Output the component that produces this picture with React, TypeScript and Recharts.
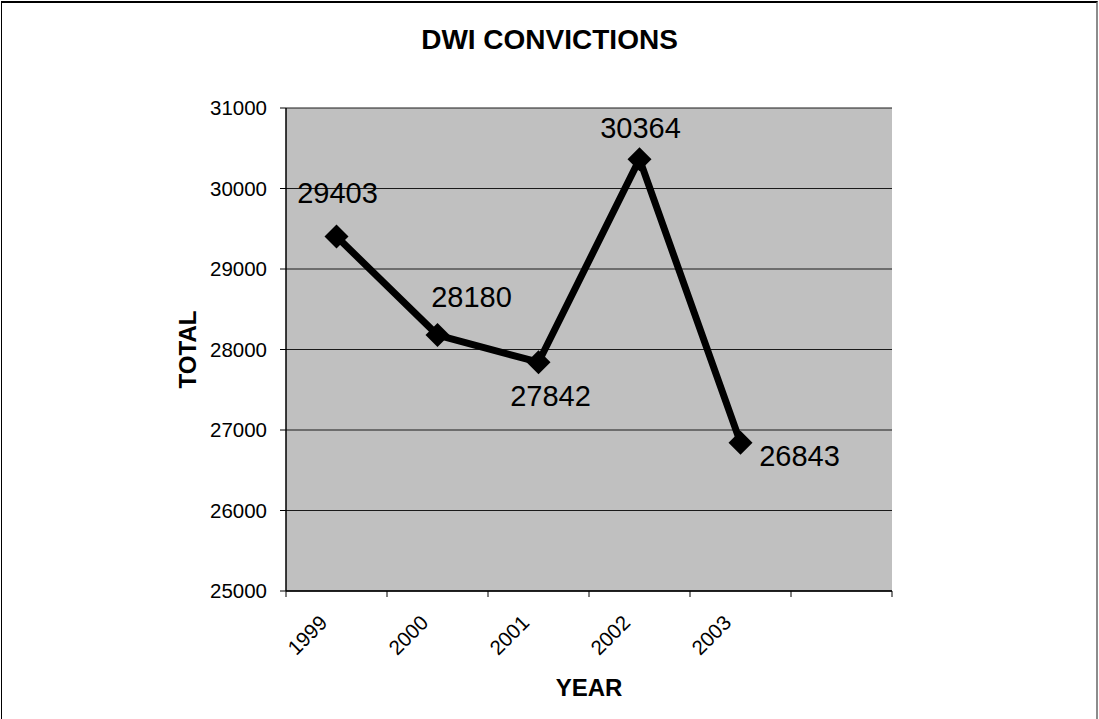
import { LineChart, Line, XAxis, YAxis, CartesianGrid } from 'recharts';

const YEARS = ['1999', '2000', '2001', '2002', '2003', ''];
const TOTALS: (number | null)[] = [29403, 28180, 27842, 30364, 26843, null];
const Y_TICKS = [25000, 26000, 27000, 28000, 29000, 30000, 31000];

// hand-placed data labels, offset from each point (dx = text centre, dy = baseline)
const LABEL_OFFSETS = [[1, -34], [34, -28], [12, 44], [1, -21], [59, 23]];

const FONT = 'Arial, "Liberation Sans", sans-serif';
const W = 1099;
const H = 719;
const PLOT_W = 606;
const HALF_BAND = PLOT_W / YEARS.length / 2;

const data = YEARS.map((year, i) => ({ year, total: TOTALS[i] }));

function Diamond(props: any) {
  const { cx, cy, value, index } = props;
  if (value == null || cx == null || cy == null) return <g key={index} />;
  const r = 12;
  return (
    <polygon
      key={index}
      points={`${cx},${cy - r} ${cx + r},${cy} ${cx},${cy + r} ${cx - r},${cy}`}
      fill="#000"
    />
  );
}

function PointLabel(props: any) {
  const { x, y, value, index } = props;
  if (value == null) return null;
  const [dx, dy] = LABEL_OFFSETS[index] || [0, -20];
  return (
    <text x={x + dx} y={y + dy} textAnchor="middle" fontSize={29} fontFamily={FONT} fill="#000">
      {value}
    </text>
  );
}

function YearTick(props: any) {
  const { x, y, payload, index, visibleTicksCount } = props;
  const last = index === visibleTicksCount - 1;
  const tx = x - 8;
  const ty = y + 33;
  return (
    <g>
      <line x1={x - HALF_BAND} y1={y} x2={x - HALF_BAND} y2={y + 6} stroke="#000" />
      {last && <line x1={x + HALF_BAND} y1={y} x2={x + HALF_BAND} y2={y + 6} stroke="#000" />}
      <text
        x={tx}
        y={ty}
        textAnchor="end"
        fontSize={20.5}
        fontFamily={FONT}
        fill="#000"
        transform={`rotate(-45 ${tx} ${ty})`}
      >
        {payload.value}
      </text>
    </g>
  );
}

export default function App() {
  return (
    <div style={{ position: 'absolute', left: 0, top: 0, width: W, height: H, background: '#fff', overflow: 'hidden' }}>
      <div
        style={{
          position: 'absolute', left: 1, top: 1, width: 1097, height: 718, boxSizing: 'border-box',
          borderTop: '2px solid #000', borderLeft: '1px solid #000', borderRight: '2px solid #8c8c8c',
        }}
      />
      <div
        style={{
          position: 'absolute', left: 0, top: 26, width: W, textAlign: 'center',
          fontFamily: FONT, fontWeight: 'bold', fontSize: 28, lineHeight: '27px', color: '#000',
        }}
      >
        DWI CONVICTIONS
      </div>
      <div style={{ position: 'absolute', left: 0, top: 0 }}>
        <LineChart width={W} height={H} data={data} margin={{ top: 108, right: 207, bottom: 0, left: 0 }}>
          <CartesianGrid vertical={false} stroke="#1a1a1a" fill="#c0c0c0" fillOpacity={1} />
          <XAxis
            dataKey="year"
            scale="band"
            height={128}
            interval={0}
            tickSize={0}
            tickMargin={0}
            tickLine={false}
            axisLine={{ stroke: '#000', strokeWidth: 1.5 }}
            tick={<YearTick />}
            label={(p: any) => {
              const vb = p.viewBox;
              return (
                <text x={vb.x + vb.width / 2} y={vb.y + 105} textAnchor="middle" fontSize={24} fontWeight="bold" fontFamily={FONT} fill="#000">
                  YEAR
                </text>
              );
            }}
          />
          <XAxis xAxisId="top" dataKey="year" orientation="top" height={0} tick={false} tickLine={false} axisLine={{ stroke: '#8c8c8c', strokeWidth: 2 }} />
          <YAxis
            width={286}
            domain={[25000, 31000]}
            ticks={Y_TICKS}
            interval={0}
            tickSize={6}
            tickMargin={13}
            tick={{ fontSize: 20.5, fill: '#000', fontFamily: FONT }}
            tickLine={{ stroke: '#000' }}
            axisLine={{ stroke: '#000', strokeWidth: 1.5 }}
            label={(p: any) => {
              const vb = p.viewBox;
              const cx = vb.x + vb.width - 90;
              const cy = vb.y + vb.height / 2;
              return (
                <text x={cx} y={cy} textAnchor="middle" fontSize={24} fontWeight="bold" fontFamily={FONT} fill="#000" transform={`rotate(-90 ${cx} ${cy})`}>
                  TOTAL
                </text>
              );
            }}
          />
          <YAxis yAxisId="right" orientation="right" width={0} type="number" domain={[0, 1]} tick={false} tickLine={false} axisLine={{ stroke: '#8c8c8c', strokeWidth: 2 }} />
          <Line
            dataKey="total"
            stroke="#000"
            strokeWidth={7}
            dot={<Diamond />}
            activeDot={false}
            label={<PointLabel />}
            isAnimationActive={false}
          />
        </LineChart>
      </div>
    </div>
  );
}
